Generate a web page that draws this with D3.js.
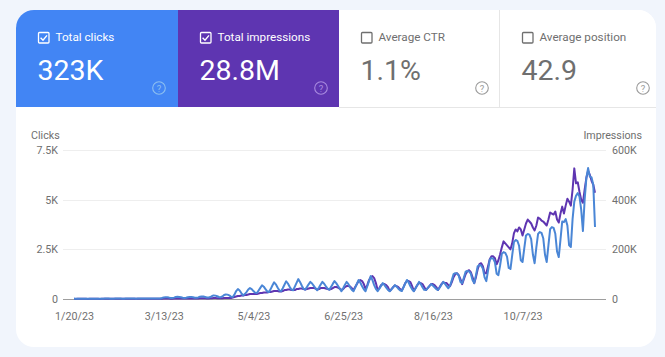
<!DOCTYPE html>
<html><head><meta charset="utf-8">
<script src="https://cdnjs.cloudflare.com/ajax/libs/d3/7.8.5/d3.min.js"></script>
<style>html,body{margin:0;padding:0;background:#f1f5fc}svg{display:block}text{font-family:Roboto,sans-serif}</style>
</head><body><svg id="c" width="665" height="357"></svg>
<script>
// Metric tiles
const metricNames=["Total clicks","Total impressions","Average CTR","Average position"];
const metricValues=["323K","28.8M","1.1%","42.9"];
const metricChecked=[true,true,false,false];
// Axis ticks
const clickTicks=[0,2500,5000,7500];
const clickTickLabels=["0","2.5K","5K","7.5K"];
const imprTicks=[0,200000,400000,600000];
const imprTickLabels=["0","200K","400K","600K"];
const dateTicks=["2023-01-20","2023-03-13","2023-05-04","2023-06-25","2023-08-16","2023-10-07"];
const dateTickLabels=["1/20/23","3/13/23","5/4/23","6/25/23","8/16/23","10/7/23"];
const startDate="2023-01-20";
// Daily clicks; each row is one week, Saturday to Friday
const clicks=[15,
10,15,15,15,15,15,15,
10,15,15,15,15,15,15,
10,15,15,20,20,20,15,
15,15,20,20,20,20,15,
15,20,20,20,25,20,20,
15,20,25,25,25,25,20,
20,25,30,30,30,30,25,
30,50,80,90,85,70,50,
50,70,100,110,105,90,65,
50,60,90,100,100,85,60,
60,80,110,130,125,100,75,
70,100,150,180,170,140,100,
90,130,200,230,220,180,120,
100,220,400,500,430,300,180,
250,350,480,550,500,400,320,
300,430,560,690,620,500,380,
350,500,680,840,740,580,440,
390,540,720,890,780,620,480,
440,620,810,1000,860,680,520,
470,600,740,860,780,660,540,
440,580,730,860,770,640,520,
470,610,760,900,800,670,530,
390,540,710,860,760,600,470,
390,570,770,960,820,640,490,
390,640,900,1150,950,700,510,
390,520,660,800,700,570,460,
390,480,590,700,620,520,440,
400,590,780,960,830,640,490,
390,540,700,860,750,590,460,
450,550,650,750,680,590,500,
450,580,720,860,770,650,540,
680,950,1250,1300,1290,1180,860,
800,1080,1370,1410,1390,1280,960,
800,1200,1650,1710,1690,1530,1090,
900,1430,1980,2060,2030,1840,1270,
1200,1700,2280,2360,2320,2130,1560,
1510,2200,2860,2970,2930,2680,1950,
1860,2550,3200,3270,3240,3010,2240,
1800,2600,3280,3370,3330,3060,2240,
1860,2700,3520,3620,3580,3280,2390,
2110,3000,3900,3870,4020,3700,2700,
2620,4020,4900,5200,5330,5150,4500,
3420,5000,6100,6590,6160,6120,5750,
3620];
// Daily impressions; same rows
const impressions=[600,
500,600,700,700,700,700,600,
500,600,700,700,700,700,600,
500,600,700,800,800,800,700,
700,700,800,900,900,800,700,
700,800,900,1000,1000,900,800,
800,900,1000,1100,1100,1000,900,
900,1000,1200,1300,1300,1200,1000,
1300,1500,1800,2000,2000,1800,1500,
1500,1800,2200,2400,2400,2200,1800,
1600,1900,2300,2500,2500,2300,1900,
1800,2200,2600,3000,3000,2700,2200,
2200,2600,3200,3600,3600,3300,2800,
2800,3200,3800,4200,4400,4400,4000,
6000,8000,10000,12000,12000,14000,14000,
16000,16000,18000,20000,20000,20000,20000,
20000,22000,24000,24000,26000,26000,26000,
28000,28000,30000,32000,32000,32000,30000,
30000,32000,36000,36000,38000,38000,36000,
36000,36000,40000,40000,42000,42000,40000,
38000,40000,42000,44000,44000,44000,42000,
38000,40000,44000,44000,44000,42000,40000,
38000,40000,44000,48000,48000,46000,42000,
36000,40000,48000,52000,52000,50000,44000,
36000,48000,60000,72000,76000,72000,60000,
40000,56000,76000,88000,92000,84000,64000,
36000,44000,56000,60000,60000,56000,48000,
32000,40000,48000,54000,52000,48000,40000,
34000,48000,64000,72000,72000,68000,52000,
32000,44000,56000,64000,64000,60000,48000,
36000,44000,52000,60000,60000,56000,48000,
36000,48000,60000,68000,64000,64000,56000,
52000,68000,88000,100000,104000,96000,80000,
60000,80000,100000,112000,116000,108000,88000,
64000,88000,120000,140000,144000,132000,104000,
104000,132000,160000,172000,172000,164000,140000,
156000,180000,208000,232000,224000,216000,208000,
200000,224000,264000,280000,272000,288000,280000,
256000,280000,304000,320000,312000,304000,288000,
276000,296000,328000,324000,316000,312000,304000,
296000,320000,348000,344000,340000,352000,320000,
308000,344000,372000,344000,376000,404000,392000,
376000,440000,526000,466000,470000,432000,400000,
388000,440000,488000,516000,500000,476000,460000,
428000];

const svg=d3.select("#c");
const cardX=16,cardY=10,cardW=640,cardH=337,tileH=97;
const tileX=[16,178,339,500,656];
const tileFill=["#4285f4","#5e35b1","#ffffff","#ffffff"];
const tileInk=["#ffffff","#ffffff","#6f6f6f","#6f6f6f"];
const helpInk=["#8ec0f0","#a98be0","#9a9a9a","#9a9a9a"];

svg.append("defs").append("clipPath").attr("id","card").append("rect")
  .attr("x",cardX).attr("y",cardY).attr("width",cardW).attr("height",cardH).attr("rx",18);
svg.append("rect").attr("x",cardX).attr("y",cardY).attr("width",cardW).attr("height",cardH).attr("rx",18).attr("fill","#fff");
const head=svg.append("g").attr("clip-path","url(#card)");

metricNames.forEach((name,i)=>{
  const x0=tileX[i],w=tileX[i+1]-x0,ink=tileInk[i];
  head.append("rect").attr("x",x0).attr("y",cardY).attr("width",w).attr("height",tileH).attr("fill",tileFill[i]);
  const bx=x0+22;
  const box=head.append("g").attr("transform",`translate(${bx},32)`);
  box.append("rect").attr("x",.5).attr("y",.5).attr("width",10.5).attr("height",10.5).attr("rx",1)
    .attr("fill","none").attr("stroke",ink).attr("stroke-width",1.3);
  if(metricChecked[i]) box.append("path").attr("d","M2.6 5.8L5 8.2L9 3.4").attr("fill","none").attr("stroke",ink).attr("stroke-width",1.4);
  head.append("text").attr("x",bx+17.5).attr("y",41).attr("font-size",11.7).attr("fill",ink).text(name);
  head.append("text").attr("x",bx-.5).attr("y",80).attr("font-size",28.5).attr("fill",ink).text(metricValues[i]);
  const help=head.append("g").attr("transform",`translate(${i===3?643:x0+143},88)`);
  help.append("circle").attr("r",6.3).attr("fill","none").attr("stroke",helpInk[i]).attr("stroke-width",1.1);
  help.append("text").attr("text-anchor","middle").attr("y",3.5).attr("font-size",9.5).attr("fill",helpInk[i]).text("?");
});
svg.append("line").attr("x1",339).attr("x2",656).attr("y1",107.5).attr("y2",107.5).attr("stroke","#e6e6e6");
svg.append("line").attr("x1",499.5).attr("x2",499.5).attr("y1",10).attr("y2",107).attr("stroke","#e6e6e6");

const plotL=63,plotR=606,plotT=150,plotB=299;
const day0=new Date(startDate+"T00:00:00");
const dayAt=i=>d3.timeDay.offset(day0,i);
const x=d3.scaleTime().domain([day0,dayAt(302)]).range([74,595]);
const yC=d3.scaleLinear().domain([0,7500]).range([plotB,plotT]);
const yI=d3.scaleLinear().domain([0,600000]).range([plotB,plotT]);

const gl=svg.append("g").call(d3.axisLeft(yC).tickValues(clickTicks).tickSize(0).tickPadding(0).tickFormat((d,i)=>clickTickLabels[i]))
  .attr("transform",`translate(58,0)`);
const gr=svg.append("g").call(d3.axisRight(yI).tickValues(imprTicks).tickSize(0).tickPadding(0).tickFormat((d,i)=>imprTickLabels[i]))
  .attr("transform",`translate(612,0)`);
const gx=svg.append("g").call(d3.axisBottom(x).tickValues(dateTicks.map(d=>new Date(d+"T00:00:00"))).tickSize(0).tickPadding(0).tickFormat((d,i)=>dateTickLabels[i]))
  .attr("transform",`translate(0,312)`);
[gl,gr,gx].forEach(g=>{g.select(".domain").remove();
  g.selectAll("text").attr("font-family","Roboto,sans-serif").attr("font-size",10.7).attr("fill","#707070");});
gx.selectAll("text").attr("dy","0.71em");

svg.append("g").selectAll("line").data(clickTicks).join("line")
  .attr("x1",plotL).attr("x2",plotR)
  .attr("y1",d=>Math.round(yC(d))+.5).attr("y2",d=>Math.round(yC(d))+.5)
  .attr("stroke",d=>d===0?"#9e9e9e":"#eeeeee");

svg.append("text").attr("x",31).attr("y",139).attr("font-size",10.7).attr("fill","#6f6f6f").text("Clicks");
svg.append("text").attr("x",642).attr("y",139).attr("text-anchor","end").attr("font-size",10.7).attr("fill","#6f6f6f").text("Impressions");

const line=(vals,y)=>d3.line().x((d,i)=>x(dayAt(i))).y(d=>y(d))(vals);
svg.append("path").attr("d",line(impressions,yI)).attr("fill","none").attr("stroke","#5e35b1").attr("stroke-width",2).attr("stroke-linejoin","round");
svg.append("path").attr("d",line(clicks,yC)).attr("fill","none").attr("stroke","#4a86d6").attr("stroke-width",2).attr("stroke-linejoin","round");
</script></body></html>
